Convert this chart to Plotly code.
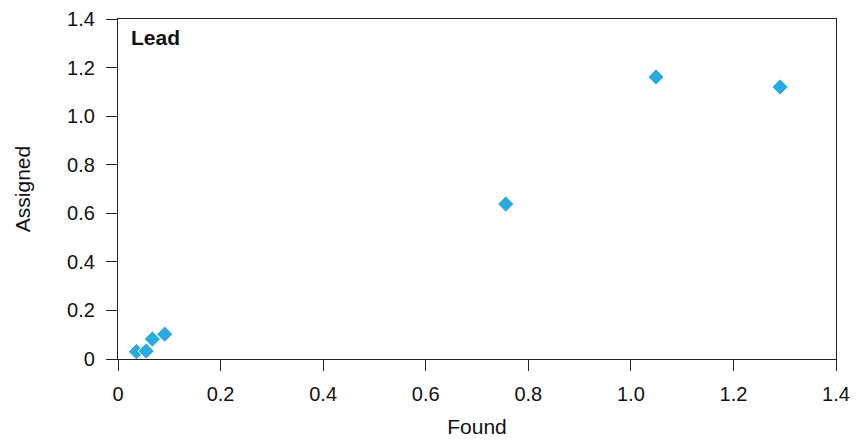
import plotly.graph_objects as go

found = [0.036, 0.055, 0.067, 0.091, 0.756, 1.049, 1.291]
assigned = [0.030, 0.033, 0.082, 0.102, 0.638, 1.161, 1.120]

x_ticks = [0, 0.2, 0.4, 0.6, 0.8, 1.0, 1.2, 1.4]
x_labels = ["0", "0.2", "0.4", "0.6", "0.8", "1.0", "1.2", "1.4"]
y_ticks = [0, 0.2, 0.4, 0.6, 0.8, 1.0, 1.2, 1.4]
y_labels = ["0", "0.2", "0.4", "0.6", "0.8", "1.0", "1.2", "1.4"]

FAM = "Liberation Sans, Arial, sans-serif"
fig = go.Figure()
fig.add_trace(go.Scatter(
    x=found, y=assigned, mode="markers",
    marker=dict(symbol="diamond", size=12.5, color="#29ABE2",
                line=dict(color="white", width=1)),
    showlegend=False,
))

fig.update_layout(
    width=863, height=443,
    margin=dict(l=118, r=27, t=19, b=84),
    paper_bgcolor="white", plot_bgcolor="white",
    font=dict(family=FAM, size=20, color="#111"),
    xaxis=dict(range=[0, 1.4], tickvals=x_ticks, ticktext=x_labels,
               showgrid=False, zeroline=False, showline=True, linecolor="#222",
               linewidth=1.3, mirror=True, ticks="outside", ticklen=11,
               tickcolor="#222", tickwidth=1.3, automargin=False,
               tickfont=dict(family=FAM, size=20, color="#111"),
               ticklabelstandoff=6,
               title=dict(text="Found", standoff=15,
                          font=dict(family=FAM, size=21, color="#111")),
               fixedrange=True),
    yaxis=dict(range=[0, 1.4], tickvals=y_ticks, ticktext=y_labels,
               showgrid=False, zeroline=False, showline=True, linecolor="#222",
               linewidth=1.3, mirror=True, ticks="outside", ticklen=11,
               tickcolor="#222", tickwidth=1.3, automargin=False,
               tickfont=dict(family=FAM, size=20, color="#111"),
               ticklabelstandoff=7,
               title=dict(text="Assigned", standoff=30,
                          font=dict(family=FAM, size=21, color="#111")),
               fixedrange=True),
    annotations=[dict(text="<b>Lead</b>", x=0.015, y=0.986, xref="paper", yref="paper",
                      xanchor="left", yanchor="top", showarrow=False,
                      font=dict(family=FAM, size=21, color="#111"))],
)
fig.write_html("out.html")
